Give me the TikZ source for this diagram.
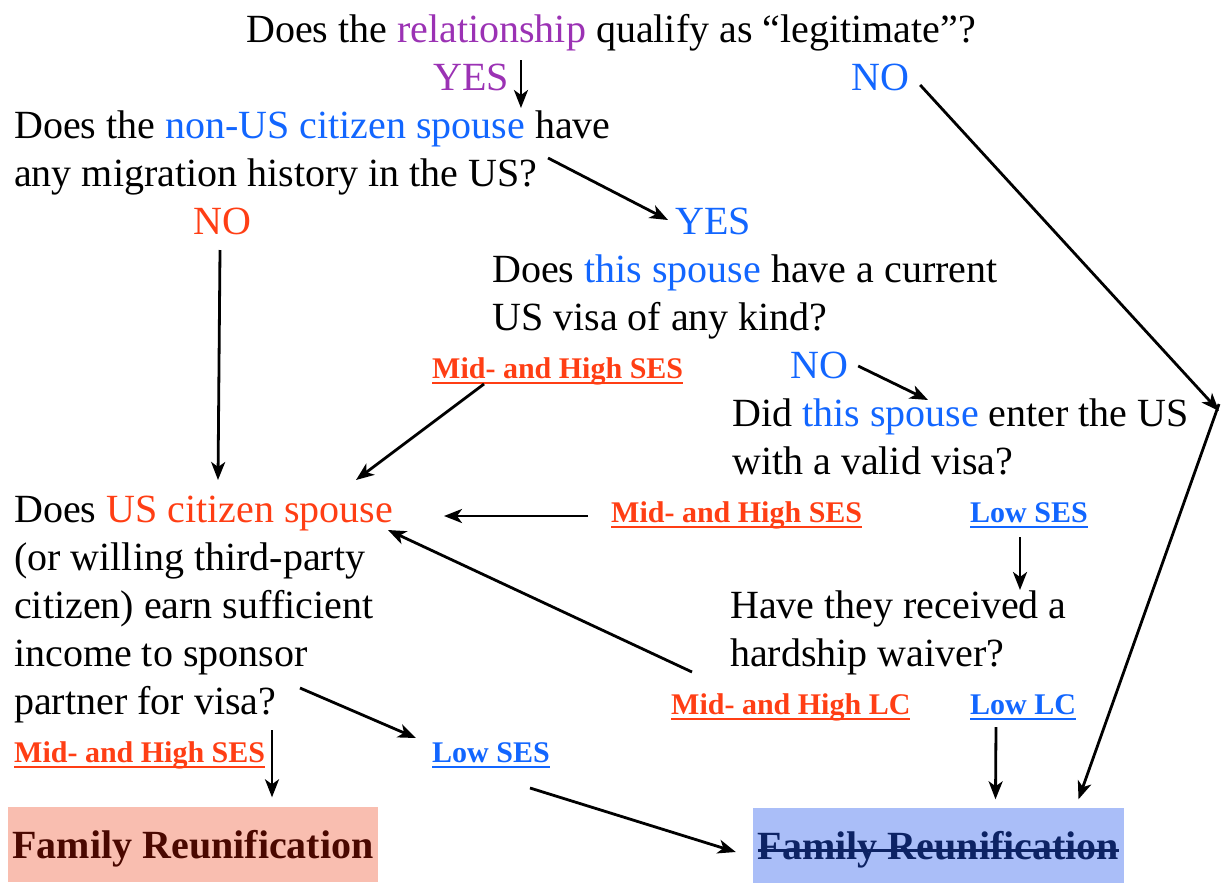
\documentclass[tikz,border=0pt]{standalone}
\usepackage{fontspec}
\setmainfont{Liberation Serif}
\usepackage{xcolor}
\usetikzlibrary{arrows.meta}

\definecolor{relcol}{RGB}{155,50,180}
\definecolor{yescol}{RGB}{18,102,255}
\definecolor{sescol}{RGB}{255,62,20}
\definecolor{famfill}{RGB}{249,190,176}
\definecolor{famtext}{RGB}{74,8,0}
\definecolor{nofamfill}{RGB}{170,190,248}
\definecolor{nofamtext}{RGB}{13,35,100}

\newsavebox{\tagbox}
\newcommand{\tagline}[1]{\sbox\tagbox{#1}\rlap{\rule[-5.5pt]{\wd\tagbox}{2pt}}\usebox\tagbox}
\newcommand{\struck}[1]{\sbox\tagbox{#1}\rlap{\rule[7pt]{\wd\tagbox}{2.6pt}}\usebox\tagbox}

\begin{document}
\begin{tikzpicture}[x=1pt, y=-1pt,
    ques/.style={anchor=base west, align=left, inner sep=0pt, font=\fontsize{40}{48}\selectfont},
    ans/.style={anchor=base west, inner sep=0pt, font=\fontsize{40}{48}\selectfont},
    sestag/.style={anchor=base west, inner sep=0pt, font=\fontsize{30}{36}\selectfont\bfseries},
    outcome/.style={inner sep=0pt, minimum height=75pt, text height=28pt, text depth=0pt, font=\fontsize{40}{48}\selectfont\bfseries},
    link/.style={-{Stealth[length=18pt, width=14pt, inset=5pt]}, line width=2.8pt}]
    \useasboundingbox (0,0) rectangle (1221,884);

    \node[ques, anchor=base] (legit) at (611,42) {Does the \textcolor{relcol}{relationship} qualify as “legitimate”?};
    \node[ans, text=relcol] (yesA) at (433,90) {YES};
    \node[ans, text=yescol] (noA) at (851,90) {NO};
    \node[ques] (hist) at (14,186) {Does the \textcolor{yescol}{non-US citizen spouse} have\\any migration history in the US?};
    \node[ans, text=sescol] (noB) at (193,234) {NO};
    \node[ans, text=yescol] (yesB) at (675,234) {YES};
    \node[ques] (visa) at (492,330) {Does \textcolor{yescol}{this spouse} have a current\\US visa of any kind?};
    \node[sestag, text=sescol] (midA) at (432,378) {\tagline{Mid- and High SES}};
    \node[ans, text=yescol] (noC) at (790,378) {NO};
    \node[ques] (entry) at (732,474) {Did \textcolor{yescol}{this spouse} enter the US\\with a valid visa?};
    \node[ques] (income) at (14,714) {Does \textcolor{sescol}{US citizen spouse}\\(or willing third-party\\citizen) earn sufficient\\income to sponsor\\partner for visa?};
    \node[sestag, text=sescol] (midB) at (611,522) {\tagline{Mid- and High SES}};
    \node[sestag, text=yescol] (lowA) at (970,522) {\tagline{Low SES}};
    \node[ques] (waiver) at (730,666) {Have they received a\\hardship waiver?};
    \node[sestag, text=sescol] (midLC) at (671,714) {\tagline{Mid- and High LC}};
    \node[sestag, text=yescol] (lowLC) at (970,714) {\tagline{Low LC}};
    \node[sestag, text=sescol] (midC) at (14,762) {\tagline{Mid- and High SES}};
    \node[sestag, text=yescol] (lowB) at (432,762) {\tagline{Low SES}};
    \node[outcome, fill=famfill, text=famtext, minimum width=370pt] (reunite) at (193,844) {Family Reunification};
    \node[outcome, fill=nofamfill, text=nofamtext, minimum width=371pt] (noreunite) at (938.5,845) {\struck{Family Reunification}};
    \coordinate (rim) at (1219,411);

    \draw[link] ([shift={(12,-30)}]yesA.base east) -- ([shift={(12,18)}]yesA.base east);
    \draw[link] ([shift={(11,-5)}]noA.base east) -- (rim);
    \draw[link] ([yshift=7]rim) -- ([shift={(140,-8)}]noreunite.north);
    \draw[link] ([shift={(534,-28)}]hist.base west) -- ([shift={(-7,-14)}]yesB.base west);
    \draw[link] ([shift={(27,16)}]noB.base west) -- ([shift={(204,-234)}]income.base west);
    \draw[link] ([shift={(10,-12)}]noC.base east) -- ([shift={(196,-74)}]entry.base west);
    \draw[link] ([shift={(52,6)}]midA.base west) -- ([shift={(342,-234)}]income.base west);
    \draw[link] ([shift={(-23,-6)}]midB.base west) -- ([shift={(430,-198)}]income.base west);
    \draw[link] ([shift={(50,15)}]lowA.base west) -- ([shift={(290,-76)}]waiver.base west);
    \draw[link] ([shift={(21,-42)}]midLC.base west) -- ([shift={(374,-184)}]income.base west);
    \draw[link] ([shift={(26,13)}]lowLC.base west) -- ([shift={(57,-8)}]noreunite.north);
    \draw[link] ([shift={(258,-32)}]midC.base west) -- ([shift={(79,-9)}]reunite.north);
    \draw[link] ([shift={(286,-26)}]income.base west) -- ([shift={(-16,-24)}]lowB.base west);
    \draw[link] ([shift={(98,26)}]lowB.base west) -- ([shift={(-17,7)}]noreunite.west);
\end{tikzpicture}
\end{document}
